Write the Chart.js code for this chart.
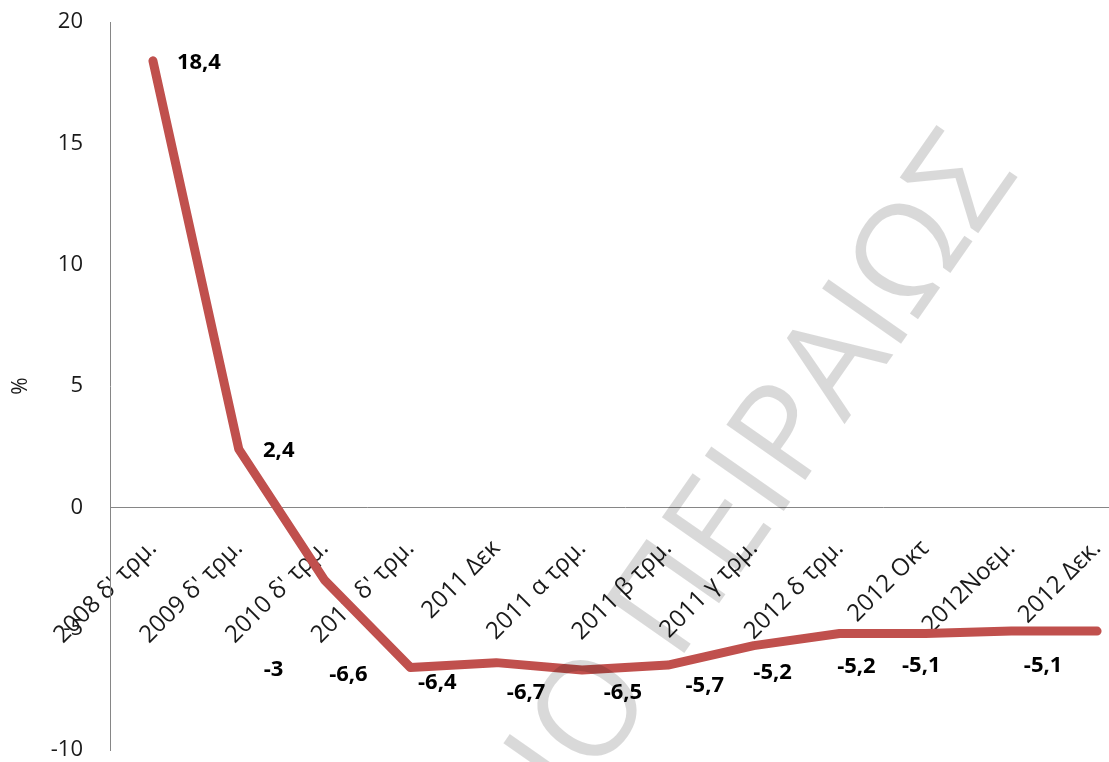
<!DOCTYPE html>
<html lang="el">
<head>
    <meta charset="UTF-8">
    <title>Μεταβολή %</title>
    <script src="https://cdn.jsdelivr.net/npm/chart.js"></script>
    <style>
        html, body { margin: 0; padding: 0; background: #fff; overflow: hidden; }
        .chart-box { width: 1140px; height: 762px; }
    </style>
</head>
<body>
    <div class="chart-box">
        <canvas id="lineChart" width="1140" height="762"></canvas>
    </div>

    <script>
        // Periods along the x axis
        const periods = [
            "2008 δ' τρμ.", "2009 δ' τρμ.", "2010 δ' τρμ.", "2011 δ' τρμ.",
            "2011 Δεκ", "2011 α τρμ.", "2011 β τρμ.", "2011 γ τρμ.",
            "2012 δ τρμ.", "2012 Οκτ", "2012Νοεμ.", "2012 Δεκ."
        ];

        // Percentage change per period
        const changes = [18.4, 2.4, -3, -6.6, -6.4, -6.7, -6.5, -5.7, -5.2, -5.2, -5.1, -5.1];

        // Y axis range and step
        const yMin = -10;
        const yMax = 20;
        const yStep = 5;

        // Nudges for each value label (px from its point)
        const labelOffsets = [
            [46, 2], [40, 2], [-51, 90], [-62, 7], [-59, 20], [-56, 23],
            [-45, 28], [-49, 40], [-67, 39], [-69, 33], [-90, 35], [-54, 35]
        ];

        const textColor = '#1a1a1a';
        const axisColor = '#868686';

        // Value labels written with a decimal comma
        const valueLabels = {
            id: 'valueLabels',
            afterDatasetsDraw(chart) {
                const ctx = chart.ctx;
                const meta = chart.getDatasetMeta(0);
                ctx.save();
                ctx.font = 'bold 22px "Open Sans"';
                ctx.fillStyle = '#000';
                ctx.textAlign = 'center';
                ctx.textBaseline = 'middle';
                meta.data.forEach((pt, i) => {
                    const [dx, dy] = labelOffsets[i];
                    const txt = String(changes[i]).replace('.', ',');
                    ctx.fillText(txt, pt.x + dx, pt.y + dy);
                });
                ctx.restore();
            }
        };

        // Faint diagonal stamp across the plot
        const stamp = {
            id: 'stamp',
            afterDraw(chart) {
                const ctx = chart.ctx;
                ctx.save();
                ctx.translate(980, 147);
                ctx.rotate(-55 * Math.PI / 180);
                ctx.font = '135px "Open Sans"';
                ctx.fillStyle = 'rgba(0, 0, 0, 0.15)';
                ctx.textAlign = 'right';
                ctx.textBaseline = 'alphabetic';
                ctx.fillText('ΠΑΝΕΠΙΣΤΗΜΙΟ ΠΕΙΡΑΙΩΣ', 0, 48);
                ctx.restore();
            }
        };

        const ctxLine = document.getElementById('lineChart').getContext('2d');
        const lineChart = new Chart(ctxLine, {
            type: 'line',
            data: {
                labels: periods,
                datasets: [{
                    data: changes,
                    borderColor: '#C0504D',
                    borderWidth: 9,
                    borderCapStyle: 'round',
                    borderJoinStyle: 'round',
                    pointRadius: 0,
                    tension: 0,
                    fill: false
                }]
            },
            options: {
                responsive: false,
                animation: false,
                layout: {
                    padding: { top: 22, bottom: 12, left: 0, right: 0 }
                },
                plugins: {
                    legend: { display: false },
                    tooltip: { enabled: false }
                },
                scales: {
                    x: {
                        position: { y: 0 },
                        offset: true,
                        grid: { display: false, drawTicks: false },
                        border: { display: true, color: axisColor, width: 1 },
                        ticks: {
                            autoSkip: false,
                            minRotation: 45,
                            maxRotation: 45,
                            padding: 27,
                            color: textColor,
                            font: { family: 'Open Sans', size: 24 }
                        },
                        afterFit(scale) {
                            scale.paddingLeft = 0;
                            scale.paddingRight = 0;
                        }
                    },
                    y: {
                        min: yMin,
                        max: yMax,
                        grid: { display: false, drawTicks: false },
                        border: { display: true, color: axisColor, width: 1 },
                        ticks: {
                            stepSize: yStep,
                            padding: 27,
                            color: textColor,
                            font: { family: 'Open Sans', size: 22 }
                        },
                        title: {
                            display: true,
                            text: '%',
                            color: textColor,
                            padding: { top: 8, bottom: 0 },
                            font: { family: 'Open Sans', size: 21 }
                        },
                        afterFit(scale) {
                            scale.width = 110;
                            scale.paddingTop = 0;
                            scale.paddingBottom = 0;
                        }
                    }
                }
            },
            plugins: [valueLabels, stamp]
        });
    </script>
</body>
</html>
